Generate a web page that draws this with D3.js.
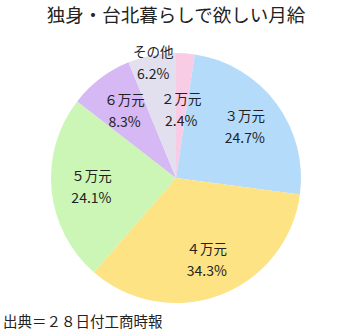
<!DOCTYPE html>
<html><head><meta charset="utf-8">
<script src="https://cdn.jsdelivr.net/npm/d3@7"></script>
<style>
html,body{margin:0;padding:0;background:#fff;}
svg{display:block;font-family:"Noto Sans CJK JP","Noto Sans",sans-serif;}
</style></head>
<body>
<script>
const categories = ["２万元","３万元","４万元","５万元","６万元","その他"];
const values = [2.4, 24.7, 34.3, 24.1, 8.3, 6.2];
const valueLabels = ["2.4%","24.7%","34.3%","24.1%","8.3%","6.2%"];
const colors = ["#f9cce6","#b5dbfa","#fde383","#cbf6b6","#d6b8f4","#e2e0ef"];
const title = "独身・台北暮らしで欲しい月給";
const source = "出典＝２８日付工商時報";

const W = 350, H = 334;
const cx = 176, cy = 178, R = 125;
const labelR = [69, 86, 87, 85, 85, 118];

const svg = d3.select("body").append("svg").attr("width", W).attr("height", H);

svg.append("text").attr("x", 176).attr("y", 22).attr("text-anchor","middle")
  .attr("font-size", 18.5).attr("fill","#222").text(title);

const pie = d3.pie().sort(null).value(d => d)(values);
const arc = d3.arc().innerRadius(0).outerRadius(R);
const g = svg.append("g").attr("transform", `translate(${cx},${cy})`);
g.selectAll("path").data(pie).enter().append("path")
  .attr("d", arc).attr("fill", (d,i) => colors[i]);

const lab = g.selectAll("g.lab").data(pie).enter().append("g")
  .attr("transform", (d,i) => {
    const a = (d.startAngle + d.endAngle) / 2;
    return `translate(${Math.sin(a)*labelR[i]},${-Math.cos(a)*labelR[i]})`;
  });
lab.append("text").attr("y", -5).attr("text-anchor","middle")
  .attr("font-size", 13.5).attr("fill","#222").text((d,i) => categories[i]);
lab.append("text").attr("y", 17).attr("text-anchor","middle")
  .attr("font-size", 14).attr("fill","#222").text((d,i) => valueLabels[i]);

svg.append("text").attr("x", 3).attr("y", 327).attr("font-size", 14.5)
  .attr("fill","#222").text(source);
</script>
</body></html>
